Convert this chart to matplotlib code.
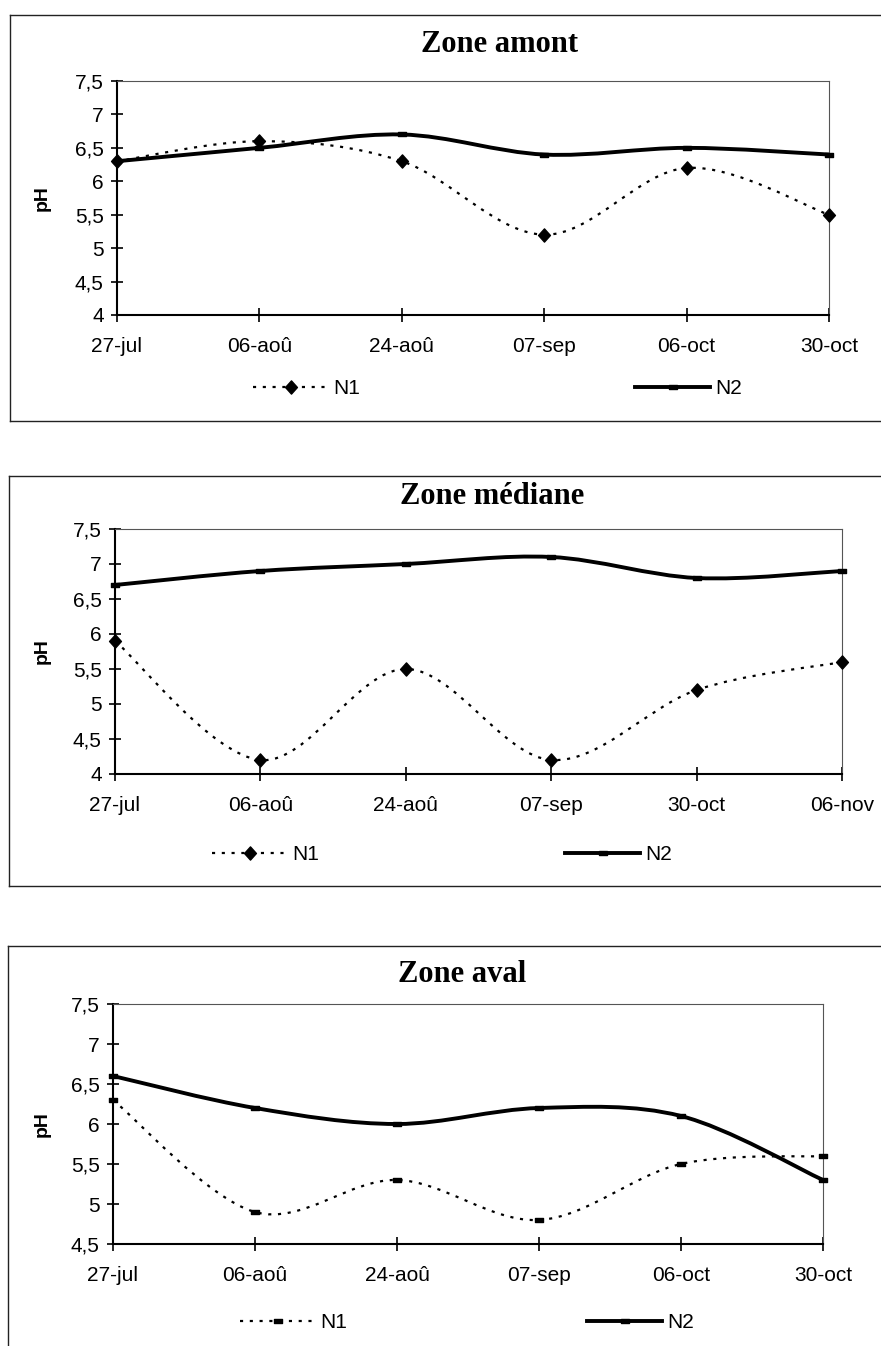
#!/usr/bin/env python
# -*- coding: utf-8 -*-

'''
    pH des zones amont / mediane / aval, points N1 et N2
    (courbes lissees a la maniere d'Excel)
'''

import matplotlib
matplotlib.use("Agg")
import matplotlib.pyplot as plt
from matplotlib.path import Path
from matplotlib.patches import PathPatch
from matplotlib.lines import Line2D

# ---------------------------------------------------------------------------
# Donnees
# ---------------------------------------------------------------------------
dates_amont = ['27-jul', '06-aoû', '24-aoû', '07-sep', '06-oct', '30-oct']
n1_amont = [6.3, 6.6, 6.3, 5.2, 6.2, 5.5]
n2_amont = [6.3, 6.5, 6.7, 6.4, 6.5, 6.4]

dates_mediane = ['27-jul', '06-aoû', '24-aoû', '07-sep', '30-oct', '06-nov']
n1_mediane = [5.9, 4.2, 5.5, 4.2, 5.2, 5.6]
n2_mediane = [6.7, 6.9, 7.0, 7.1, 6.8, 6.9]

dates_aval = ['27-jul', '06-aoû', '24-aoû', '07-sep', '06-oct', '30-oct']
n1_aval = [6.3, 4.9, 5.3, 4.8, 5.5, 5.6]
n2_aval = [6.6, 6.2, 6.0, 6.2, 6.1, 5.3]

yticks_4 = [4, 4.5, 5, 5.5, 6, 6.5, 7, 7.5]
yticks_45 = [4.5, 5, 5.5, 6, 6.5, 7, 7.5]

W, H = 881, 1346

# small markers
DIAMOND = Path([(0, 1), (0.9, 0), (0, -1), (-0.9, 0), (0, 1)],
               [Path.MOVETO, Path.LINETO, Path.LINETO, Path.LINETO, Path.CLOSEPOLY])
BAR = Path([(-1, -0.45), (1, -0.45), (1, 0.45), (-1, 0.45), (-1, -0.45)],
           [Path.MOVETO, Path.LINETO, Path.LINETO, Path.LINETO, Path.CLOSEPOLY])

TICK_FONT = 'Liberation Sans'
TITLE_FONT = 'Liberation Serif'
DOTS = (0, (1.4, 3.0))


def smooth_path(xs, ys):
    # Catmull-Rom -> Bezier, like the "smoothed line" option of Excel
    pts = list(zip(xs, ys))
    n = len(pts)
    verts = [pts[0]]
    codes = [Path.MOVETO]
    for i in range(n - 1):
        p0 = pts[max(i - 1, 0)]
        p1 = pts[i]
        p2 = pts[i + 1]
        p3 = pts[min(i + 2, n - 1)]
        c1 = (p1[0] + (p2[0] - p0[0]) / 6.0, p1[1] + (p2[1] - p0[1]) / 6.0)
        c2 = (p2[0] - (p3[0] - p1[0]) / 6.0, p2[1] - (p3[1] - p1[1]) / 6.0)
        verts += [c1, c2, p2]
        codes += [Path.CURVE4] * 3
    return Path(verts, codes)


def px_box(left, top, right, bottom):
    return [left / W, 1 - bottom / H, (right - left) / W, (bottom - top) / H]


def frame(fig, left, top, bottom):
    kw = dict(color='#222222', lw=1.0, transform=fig.transFigure)
    fig.add_artist(Line2D([left / W, 1.0], [1 - top / H, 1 - top / H], **kw))
    fig.add_artist(Line2D([left / W, left / W], [1 - top / H, 1 - bottom / H], **kw))
    if bottom < H:
        fig.add_artist(Line2D([left / W, 1.0], [1 - bottom / H, 1 - bottom / H], **kw))


def panel(fig, box, title, title_xy, dates, n1, n2, yticks, n1_marker,
          n1_leg, n2_leg):
    ax = fig.add_axes(px_box(*box))
    x = list(range(len(dates)))

    ax.add_patch(PathPatch(smooth_path(x, n1), fill=False, color='black',
                           lw=1.6, ls=DOTS, clip_on=False))
    ax.add_patch(PathPatch(smooth_path(x, n2), fill=False, color='black',
                           lw=2.8, capstyle='butt', clip_on=False))

    n1_ms = 9.5 if n1_marker is DIAMOND else 6
    ax.plot(x, n1, ls='none', marker=n1_marker, ms=n1_ms, color='black',
            clip_on=False, zorder=5)
    ax.plot(x, n2, ls='none', marker=BAR, ms=6, color='black',
            clip_on=False, zorder=5)

    ax.set_xlim(0, len(dates) - 1)
    ax.set_ylim(yticks[0], yticks[-1])
    ax.set_xticks(x)
    ax.set_xticklabels(dates)
    ax.set_yticks(yticks)
    ax.set_yticklabels([('%g' % v).replace('.', ',') for v in yticks])

    for s in ('left', 'bottom'):
        ax.spines[s].set_linewidth(1.5)
    for s in ('top', 'right'):
        ax.spines[s].set_linewidth(0.8)
        ax.spines[s].set_color('#555555')

    ax.tick_params(axis='y', direction='inout', length=9, width=1.2, pad=5,
                   labelsize=15)
    ax.tick_params(axis='x', direction='inout', length=10, width=1.2, pad=11,
                   labelsize=15)
    for lab in ax.get_xticklabels() + ax.get_yticklabels():
        lab.set_family(TICK_FONT)

    top, bottom = box[1], box[3]
    fig.text(42 / W, 1 - (top + bottom) / 2 / H, 'pH', rotation=90,
             ha='center', va='center', fontsize=14, fontweight='bold',
             family=TICK_FONT)
    fig.text(title_xy[0] / W, 1 - title_xy[1] / H, title, ha='center',
             va='center', fontsize=22, fontweight='bold', family=TITLE_FONT)

    h1 = Line2D([], [], color='black', lw=1.6, ls=DOTS,
                marker=n1_marker, ms=n1_ms)
    h2 = Line2D([], [], color='black', lw=2.8, marker=BAR, ms=6)
    leg_kw = dict(frameon=False, handlelength=3.6, handletextpad=0.25,
                  numpoints=1, loc='center left', borderpad=0,
                  borderaxespad=0, bbox_transform=fig.transFigure,
                  prop={'family': TICK_FONT, 'size': 15})
    leg1 = ax.legend([h1], ['N1'], bbox_to_anchor=(n1_leg[0] / W, 1 - n1_leg[1] / H),
                     **leg_kw)
    ax.add_artist(leg1)
    ax.legend([h2], ['N2'], bbox_to_anchor=(n2_leg[0] / W, 1 - n2_leg[1] / H),
              **leg_kw)
    return ax


def main():
    fig = plt.figure(figsize=(W / 100, H / 100), dpi=100)

    frame(fig, 10, 15, 421)
    frame(fig, 9, 476, 886)
    frame(fig, 8, 946, H + 10)

    panel(fig, (117, 81, 829, 315), 'Zone amont', (500, 45),
          dates_amont, n1_amont, n2_amont, yticks_4, DIAMOND,
          (253, 389), (635, 389))
    panel(fig, (115, 529, 842, 774), 'Zone médiane', (492, 497),
          dates_mediane, n1_mediane, n2_mediane, yticks_4, DIAMOND,
          (212, 855), (565, 855))
    panel(fig, (113, 1004, 823, 1244), 'Zone aval', (462, 975),
          dates_aval, n1_aval, n2_aval, yticks_45, BAR,
          (240, 1323), (587, 1323))

    plt.savefig('out.png', dpi=100)


if __name__ == "__main__":

    main()
